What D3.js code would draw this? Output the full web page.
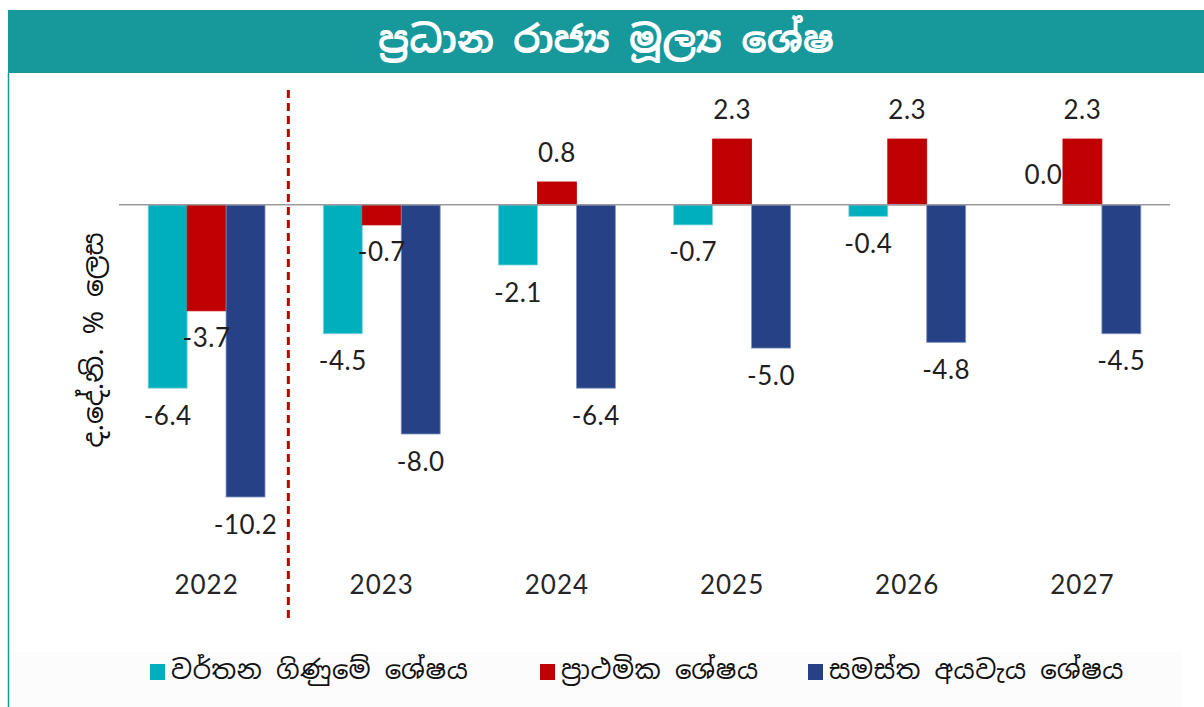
<!DOCTYPE html>
<html>
<head>
<meta charset="utf-8">
<script src="https://cdn.jsdelivr.net/npm/d3@7"></script>
<style>
  html, body { margin: 0; padding: 0; background: #ffffff; }
  svg { display: block; }
</style>
</head>
<body>
<svg id="chart" width="1204" height="707"></svg>
<script>
// Primary fiscal balances, % of GDP
const years = ["2022", "2023", "2024", "2025", "2026", "2027"];
const currentAccount = [-6.4, -4.5, -2.1, -0.7, -0.4, 0.0];
const primaryBalance = [-3.7, -0.7, 0.8, 2.3, 2.3, 2.3];
const overallBalance = [-10.2, -8.0, -6.4, -5.0, -4.8, -4.5];

const seriesNames = ["වර්තන ගිණුමේ ශේෂය", "ප්‍රාථමික ශේෂය", "සමස්ත අයවැය ශේෂය"];
const seriesColors = ["#00AFBD", "#C00000", "#264185"];
const seriesStroke = ["#7fd6dd", "#C00000", "#8193c4"];
const seriesValues = [currentAccount, primaryBalance, overallBalance];

const titleText = "ප්‍රධාන රාජ්‍ය මූල්‍ය ශේෂ";
const yTitle = "ද.දේ.නි. % ලෙස";

const svg = d3.select("#chart");
const W = 1204, H = 707;
const sinhalaFont = "'Noto Sans Sinhala', 'Iskoola Pota', 'Noto Sans', sans-serif";
const numFont = "Lato, 'Open Sans', sans-serif";
const fmt = v => v.toFixed(1); // plain hyphen for negatives

// faint background band behind legend
svg.append("rect").attr("x", 12).attr("y", 652).attr("width", 1170).attr("height", 55)
  .attr("fill", "#fcfcfc");

// header band
svg.append("rect").attr("x", 8).attr("y", 10).attr("width", W - 8).attr("height", 63)
  .attr("fill", "#17999B");
svg.append("text").attr("x", 606).attr("y", 43)
  .attr("text-anchor", "middle").attr("dominant-baseline", "middle")
  .attr("fill", "#ffffff").attr("font-family", sinhalaFont)
  .attr("font-size", 38).attr("font-weight", "bold")
  .text(titleText);

// left frame line
svg.append("line").attr("x1", 8.5).attr("x2", 8.5).attr("y1", 73).attr("y2", H)
  .attr("stroke", "#17999B").attr("stroke-width", 1.5);

// scales
const x0 = d3.scaleBand().domain(years).range([119, 1170]).paddingInner(0.333).paddingOuter(0.1665);
const x1 = d3.scaleBand().domain(d3.range(3)).range([0, x0.bandwidth()]);
const y = d3.scaleLinear().domain([-10.2, 2.3]).range([497, 139]);

// bars
const rows = years.map((yr, i) => ({ yr, vals: seriesValues.map(s => s[i]) }));
const groups = svg.append("g").selectAll("g").data(rows).join("g")
  .attr("transform", d => `translate(${x0(d.yr)},0)`);

groups.selectAll("rect").data(d => d.vals.map((v, k) => ({ v, k }))).join("rect")
  .attr("x", d => x1(d.k))
  .attr("width", x1.bandwidth())
  .attr("y", d => y(Math.max(0, d.v)))
  .attr("height", d => Math.abs(y(d.v) - y(0)))
  .attr("fill", d => seriesColors[d.k])
  .attr("stroke", d => d.v === 0 ? "none" : seriesStroke[d.k])
  .attr("stroke-width", 0.8);

// value labels
groups.selectAll("text").data(d => d.vals.map((v, k) => ({ v, k }))).join("text")
  .attr("x", d => x1(d.k) + x1.bandwidth() / 2)
  .attr("y", d => d.v < 0 ? y(d.v) + 30 : y(d.v) - 27)
  .attr("text-anchor", "middle").attr("dominant-baseline", "middle")
  .attr("font-family", numFont).attr("font-size", 26).attr("fill", "#1f1f1f")
  .attr("letter-spacing", 0.5)
  .text(d => fmt(d.v));

// zero line
svg.append("line").attr("x1", 119).attr("x2", 1170).attr("y1", y(0)).attr("y2", y(0))
  .attr("stroke", "#9a9a9a").attr("stroke-width", 1.5);

// category axis labels
const xAxis = d3.axisBottom(x0).tickSize(0).tickPadding(0);
const gx = svg.append("g").attr("transform", "translate(0,585)").call(xAxis);
gx.select(".domain").remove();
gx.selectAll("text").attr("font-family", numFont).attr("font-size", 26)
  .attr("letter-spacing", 1)
  .attr("fill", "#262626").attr("dy", "0.35em").attr("y", 0);

// separator between actual and projected years
const sepX = x0("2023") - 35;
svg.append("line").attr("x1", sepX).attr("x2", sepX).attr("y1", 90).attr("y2", 620)
  .attr("stroke", "#C00000").attr("stroke-width", 3).attr("stroke-dasharray", "8,5");

// y axis title
svg.append("text").attr("transform", "translate(95,340) rotate(-90)")
  .attr("text-anchor", "middle").attr("dominant-baseline", "middle")
  .attr("font-family", sinhalaFont).attr("font-size", 28).attr("fill", "#111")
  .text(yTitle);

// legend
const legendX = [150, 540, 808];
const lg = svg.append("g").selectAll("g").data(seriesNames).join("g")
  .attr("transform", (d, i) => `translate(${legendX[i]},672)`);
lg.append("rect").attr("x", 0).attr("y", -8).attr("width", 15).attr("height", 16)
  .attr("fill", (d, i) => seriesColors[i]);
lg.append("text").attr("x", 21).attr("y", 0).attr("dominant-baseline", "middle")
  .attr("font-family", sinhalaFont).attr("font-size", 26).attr("fill", "#111")
  .attr("letter-spacing", 0.6)
  .text(d => d);
</script>
</body>
</html>
